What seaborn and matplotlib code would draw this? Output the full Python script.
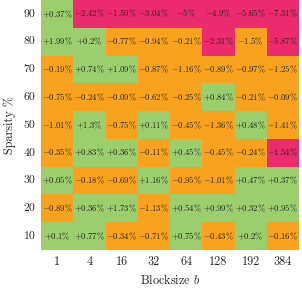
import numpy as np
import pandas as pd
import matplotlib
matplotlib.use("Agg")
import matplotlib.pyplot as plt
import seaborn as sns
from matplotlib.colors import ListedColormap, BoundaryNorm

blocksizes = ["1", "4", "16", "32", "64", "128", "192", "384"]
sparsities = ["90", "80", "70", "60", "50", "40", "30", "20", "10"]

row_90 = [0.37, -2.42, -1.59, -3.04, -5.0, -4.9, -5.65, -7.31]
row_80 = [1.99, 0.2, -0.77, -0.94, -0.21, -2.31, -1.5, -5.87]
row_70 = [-0.19, 0.74, 1.09, -0.87, -1.16, -0.89, -0.97, -1.25]
row_60 = [-0.75, -0.24, -0.09, -0.62, -0.25, 0.84, -0.21, -0.09]
row_50 = [-1.01, 1.3, -0.75, 0.11, -0.45, -1.36, 0.48, -1.41]
row_40 = [-0.35, 0.83, 0.36, -0.11, 0.45, -0.45, -0.24, -1.54]
row_30 = [0.05, -0.18, -0.69, 1.16, -0.95, -1.01, 0.47, 0.37]
row_20 = [-0.89, 0.36, 1.73, -1.13, 0.54, 0.99, 0.32, 0.95]
row_10 = [0.1, 0.77, -0.34, -0.71, 0.75, -0.43, 0.2, -0.16]

sns.set_theme(style="white")
plt.rcParams["font.family"] = ["cmr10", "DejaVu Serif"]
plt.rcParams["mathtext.fontset"] = "cm"
plt.rcParams["axes.unicode_minus"] = False

data = pd.DataFrame(
    [row_90, row_80, row_70, row_60, row_50, row_40, row_30, row_20, row_10],
    index=sparsities, columns=blocksizes)

def fmt(v):
    s = f"{v:+g}"
    return "$" + s + r"\%$"

annot = data.map(fmt).values

cmap = ListedColormap(["#ec2a6e", "#f9a21f", "#9bcf6e"])
norm = BoundaryNorm([-100, -1.505, 0.0, 100], cmap.N)

fig = plt.figure(figsize=(3.02, 2.90), dpi=100)
ax = fig.add_axes([41/302, 40/290, 258/302, 250/290])
sns.heatmap(data, ax=ax, cmap=cmap, norm=norm, cbar=False, annot=annot, fmt="",
            annot_kws={"fontsize": 6.3, "color": "#222222"})
ax.set_xticklabels(blocksizes, rotation=0, fontsize=8.8)
ax.set_yticklabels(sparsities, rotation=0, fontsize=8.5)
ax.tick_params(length=0, pad=4)
ax.set_xlabel("Blocksize $b$", fontsize=8.8, labelpad=4)
ax.set_ylabel("Sparsity %", fontsize=8.8, labelpad=5)
fig.savefig("out.png", dpi=100)
